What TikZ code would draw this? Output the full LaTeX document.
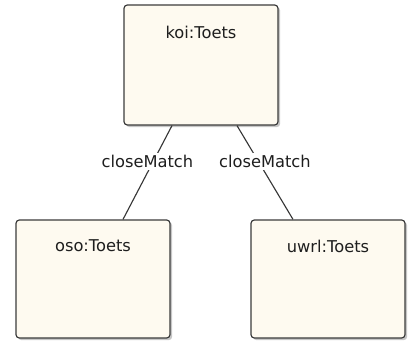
\documentclass[tikz,border=0pt]{standalone}
\usepackage{fontspec}
\setmainfont{DejaVu Sans}
\usetikzlibrary{shadows}
\definecolor{boxfill}{RGB}{254,250,240}
\definecolor{boxline}{RGB}{60,60,60}
\definecolor{conn}{RGB}{55,55,55}
\definecolor{txt}{RGB}{30,30,30}
\tikzset{
  classbox/.style={draw=boxline, line width=0.9pt, fill=boxfill, rounded corners=2.5pt,
    minimum width=115.5pt, inner sep=0pt,
    drop shadow={shadow xshift=1.6pt, shadow yshift=-1.6pt, opacity=0.45, fill=gray}},
  rel/.style={draw=conn, line width=0.85pt},
  rellabel/.style={fill=white, inner sep=1.5pt, text=txt, font=\fontsize{12.2}{14}\selectfont},
  title/.style={font=\fontsize{12.2}{14}\selectfont, text=txt, anchor=center}
}
\begin{document}
\begin{tikzpicture}[x=0.75pt, y=-0.75pt]
\useasboundingbox (0,0) rectangle (411,341);
\node[classbox, minimum height=90pt, label={[title, yshift=-21pt]north:{koi:Toets}}] (koi) at (201,65) {};
\node[classbox, minimum height=88.5pt, label={[title, yshift=-20pt]north:{oso:Toets}}] (oso) at (93,279) {};
\node[classbox, minimum height=88.5pt, label={[title, yshift=-20pt]north:{uwrl:Toets}}] (uwrl) at (328,279) {};
\draw[rel] ([xshift=-21.75pt]koi.south) -- node[rellabel, pos=0.38, xshift=-4.5pt] {closeMatch} ([xshift=22.5pt]oso.north);
\draw[rel] ([xshift=27pt]koi.south) -- node[rellabel, pos=0.38, xshift=5pt] {closeMatch} ([xshift=-26.25pt]uwrl.north);
\end{tikzpicture}
\end{document}
